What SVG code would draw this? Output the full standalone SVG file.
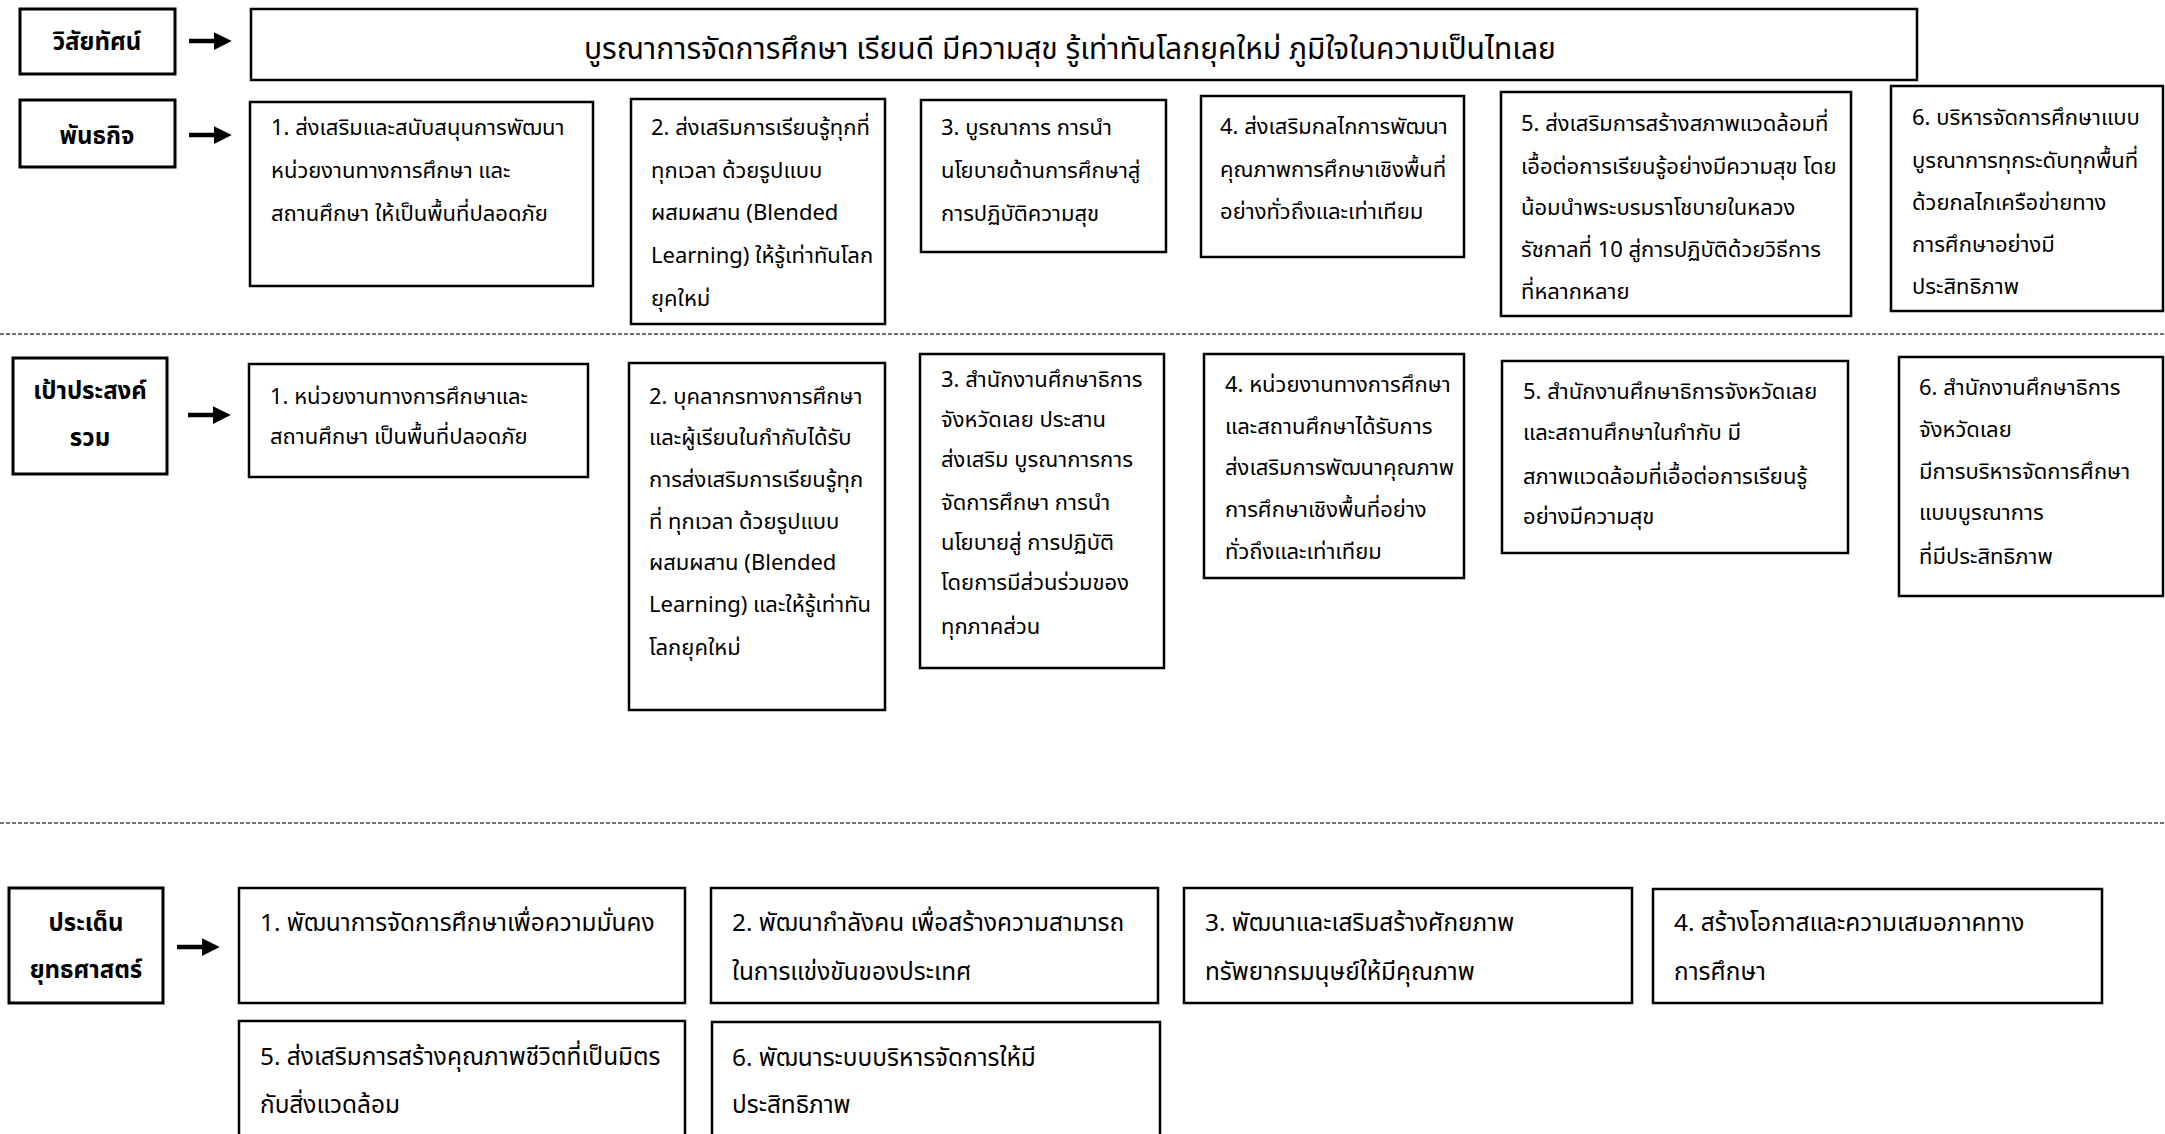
<svg xmlns="http://www.w3.org/2000/svg" width="2165" height="1134" viewBox="0 0 2165 1134">
<style>
.bx{fill:#fff;stroke:#000;stroke-width:2.5}
.lb{fill:#fff;stroke:#000;stroke-width:3}
.t{font-family:"Noto Sans Thai","Noto Sans","Liberation Sans",sans-serif;font-size:22px;fill:#000}
.ts{font-family:"Noto Sans Thai","Noto Sans","Liberation Sans",sans-serif;font-size:24.4px;fill:#000}
.tv{font-family:"Noto Sans Thai","Noto Sans","Liberation Sans",sans-serif;font-size:30px;fill:#000}
.tl{font-family:"Noto Sans Thai","Noto Sans","Liberation Sans",sans-serif;font-size:24px;font-weight:bold;fill:#000;text-anchor:middle}
.dl{stroke:#444;stroke-width:1.5;stroke-dasharray:4 2;fill:none}
.ar{stroke:#000;stroke-width:4.5;fill:none;marker-end:url(#ah)}
</style>
<defs>
<marker id="ah" markerWidth="4" markerHeight="4" refX="0.5" refY="2" orient="auto" markerUnits="strokeWidth" viewBox="0 0 4 4">
<path d="M0,0 L4,2 L0,4 Z" fill="#000"/>
</marker>
</defs>
<rect width="2165" height="1134" fill="#fff"/>

<g id="separators">
<line class="dl" x1="0" y1="334" x2="2165" y2="334"/>
<line class="dl" x1="0" y1="823" x2="2165" y2="823"/>
</g>

<g id="connectors">
<line class="ar" x1="189" y1="41" x2="216" y2="41"/>
<line class="ar" x1="189" y1="135" x2="216" y2="135"/>
<line class="ar" x1="188" y1="415" x2="215" y2="415"/>
<line class="ar" x1="177" y1="947" x2="204" y2="947"/>
</g>

<g id="label-vision"><rect class="lb" x="20" y="9" width="155" height="65"/><text class="tl" x="97" y="50">วิสัยทัศน์</text></g>
<g id="vision"><rect class="bx" x="251" y="9" width="1666" height="71"/><text class="tv" x="584" y="59">บูรณาการจัดการศึกษา เรียนดี มีความสุข รู้เท่าทันโลกยุคใหม่ ภูมิใจในความเป็นไทเลย</text></g>

<g id="label-mission"><rect class="lb" x="20" y="100" width="155" height="67"/><text class="tl" x="97" y="144">พันธกิจ</text></g>
<g id="m1"><rect class="bx" x="250" y="102" width="343" height="184"/>
<text class="t"><tspan x="271" y="135">1. ส่งเสริมและสนับสนุนการพัฒนา</tspan><tspan x="271" y="178">หน่วยงานทางการศึกษา และ</tspan><tspan x="271" y="221">สถานศึกษา ให้เป็นพื้นที่ปลอดภัย</tspan></text></g>
<g id="m2"><rect class="bx" x="631" y="99" width="254" height="225"/>
<text class="t"><tspan x="651" y="135">2. ส่งเสริมการเรียนรู้ทุกที่</tspan><tspan x="651" y="178">ทุกเวลา ด้วยรูปแบบ</tspan><tspan x="651" y="220">ผสมผสาน (Blended</tspan><tspan x="651" y="263">Learning) ให้รู้เท่าทันโลก</tspan><tspan x="651" y="306">ยุคใหม่</tspan></text></g>
<g id="m3"><rect class="bx" x="921" y="100" width="245" height="152"/>
<text class="t"><tspan x="941" y="135">3. บูรณาการ การนำ</tspan><tspan x="941" y="178">นโยบายด้านการศึกษาสู่</tspan><tspan x="941" y="221">การปฏิบัติความสุข</tspan></text></g>
<g id="m4"><rect class="bx" x="1201" y="96" width="263" height="161"/>
<text class="t"><tspan x="1220" y="134">4. ส่งเสริมกลไกการพัฒนา</tspan><tspan x="1220" y="177">คุณภาพการศึกษาเชิงพื้นที่</tspan><tspan x="1220" y="219">อย่างทั่วถึงและเท่าเทียม</tspan></text></g>
<g id="m5"><rect class="bx" x="1501" y="92" width="350" height="224"/>
<text class="t"><tspan x="1521" y="131">5. ส่งเสริมการสร้างสภาพแวดล้อมที่</tspan><tspan x="1521" y="174">เอื้อต่อการเรียนรู้อย่างมีความสุข โดย</tspan><tspan x="1521" y="215">น้อมนำพระบรมราโชบายในหลวง</tspan><tspan x="1521" y="257">รัชกาลที่ 10 สู่การปฏิบัติด้วยวิธีการ</tspan><tspan x="1521" y="299">ที่หลากหลาย</tspan></text></g>
<g id="m6"><rect class="bx" x="1891" y="86" width="272" height="225"/>
<text class="t"><tspan x="1912" y="125">6. บริหารจัดการศึกษาแบบ</tspan><tspan x="1912" y="168">บูรณาการทุกระดับทุกพื้นที่</tspan><tspan x="1912" y="210">ด้วยกลไกเครือข่ายทาง</tspan><tspan x="1912" y="252">การศึกษาอย่างมี</tspan><tspan x="1912" y="294">ประสิทธิภาพ</tspan></text></g>

<g id="label-goal"><rect class="lb" x="13" y="358" width="154" height="116"/><text class="tl"><tspan x="90" y="399">เป้าประสงค์</tspan><tspan x="90" y="446">รวม</tspan></text></g>
<g id="g1"><rect class="bx" x="249" y="364" width="339" height="113"/>
<text class="t"><tspan x="270" y="404">1. หน่วยงานทางการศึกษาและ</tspan><tspan x="270" y="444">สถานศึกษา เป็นพื้นที่ปลอดภัย</tspan></text></g>
<g id="g2"><rect class="bx" x="629" y="363" width="256" height="347"/>
<text class="t"><tspan x="649" y="404">2. บุคลากรทางการศึกษา</tspan><tspan x="649" y="445">และผู้เรียนในกำกับได้รับ</tspan><tspan x="649" y="487">การส่งเสริมการเรียนรู้ทุก</tspan><tspan x="649" y="529">ที่ ทุกเวลา ด้วยรูปแบบ</tspan><tspan x="649" y="570">ผสมผสาน (Blended</tspan><tspan x="649" y="612">Learning) และให้รู้เท่าทัน</tspan><tspan x="649" y="655">โลกยุคใหม่</tspan></text></g>
<g id="g3"><rect class="bx" x="920" y="354" width="244" height="314"/>
<text class="t"><tspan x="941" y="387">3. สำนักงานศึกษาธิการ</tspan><tspan x="941" y="427">จังหวัดเลย ประสาน</tspan><tspan x="941" y="467">ส่งเสริม บูรณาการการ</tspan><tspan x="941" y="510">จัดการศึกษา การนำ</tspan><tspan x="941" y="550">นโยบายสู่ การปฏิบัติ</tspan><tspan x="941" y="590">โดยการมีส่วนร่วมของ</tspan><tspan x="941" y="634">ทุกภาคส่วน</tspan></text></g>
<g id="g4"><rect class="bx" x="1204" y="354" width="260" height="224"/>
<text class="t"><tspan x="1225" y="392">4. หน่วยงานทางการศึกษา</tspan><tspan x="1225" y="434">และสถานศึกษาได้รับการ</tspan><tspan x="1225" y="475">ส่งเสริมการพัฒนาคุณภาพ</tspan><tspan x="1225" y="517">การศึกษาเชิงพื้นที่อย่าง</tspan><tspan x="1225" y="559">ทั่วถึงและเท่าเทียม</tspan></text></g>
<g id="g5"><rect class="bx" x="1502" y="361" width="346" height="192"/>
<text class="t"><tspan x="1523" y="399">5. สำนักงานศึกษาธิการจังหวัดเลย</tspan><tspan x="1523" y="440">และสถานศึกษาในกำกับ มี</tspan><tspan x="1523" y="484">สภาพแวดล้อมที่เอื้อต่อการเรียนรู้</tspan><tspan x="1523" y="524">อย่างมีความสุข</tspan></text></g>
<g id="g6"><rect class="bx" x="1899" y="357" width="264" height="239"/>
<text class="t"><tspan x="1919" y="395">6. สำนักงานศึกษาธิการ</tspan><tspan x="1919" y="437">จังหวัดเลย</tspan><tspan x="1919" y="479">มีการบริหารจัดการศึกษา</tspan><tspan x="1919" y="520">แบบบูรณาการ</tspan><tspan x="1919" y="564">ที่มีประสิทธิภาพ</tspan></text></g>

<g id="label-strategy"><rect class="lb" x="9" y="888" width="154" height="115"/><text class="tl"><tspan x="86" y="931">ประเด็น</tspan><tspan x="86" y="978">ยุทธศาสตร์</tspan></text></g>
<g id="s1"><rect class="bx" x="239" y="888" width="446" height="115"/>
<text class="ts"><tspan x="260" y="931">1. พัฒนาการจัดการศึกษาเพื่อความมั่นคง</tspan></text></g>
<g id="s2"><rect class="bx" x="711" y="888" width="447" height="115"/>
<text class="ts"><tspan x="732" y="931">2. พัฒนากำลังคน เพื่อสร้างความสามารถ</tspan><tspan x="732" y="980">ในการแข่งขันของประเทศ</tspan></text></g>
<g id="s3"><rect class="bx" x="1184" y="888" width="448" height="115"/>
<text class="ts"><tspan x="1205" y="931">3. พัฒนาและเสริมสร้างศักยภาพ</tspan><tspan x="1205" y="980">ทรัพยากรมนุษย์ให้มีคุณภาพ</tspan></text></g>
<g id="s4"><rect class="bx" x="1653" y="889" width="449" height="114"/>
<text class="ts"><tspan x="1674" y="931">4. สร้างโอกาสและความเสมอภาคทาง</tspan><tspan x="1674" y="980">การศึกษา</tspan></text></g>
<g id="s5"><rect class="bx" x="239" y="1021" width="446" height="125"/>
<text class="ts"><tspan x="260" y="1065">5. ส่งเสริมการสร้างคุณภาพชีวิตที่เป็นมิตร</tspan><tspan x="260" y="1113">กับสิ่งแวดล้อม</tspan></text></g>
<g id="s6"><rect class="bx" x="712" y="1022" width="448" height="124"/>
<text class="ts"><tspan x="732" y="1066">6. พัฒนาระบบบริหารจัดการให้มี</tspan><tspan x="732" y="1113">ประสิทธิภาพ</tspan></text></g>
</svg>
